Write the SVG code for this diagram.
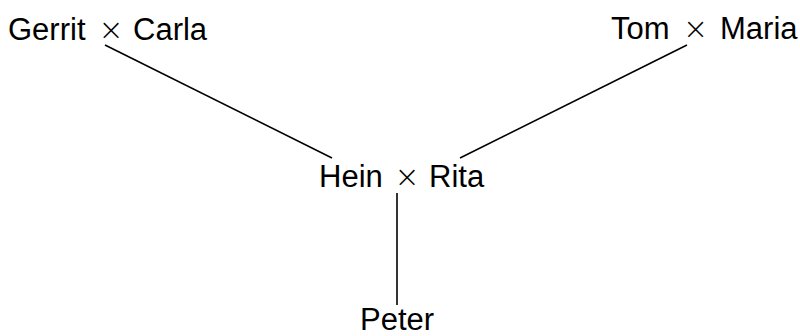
<svg xmlns="http://www.w3.org/2000/svg" width="800" height="336" viewBox="0 0 800 336">
<style>
text{font-family:"Liberation Sans",Arial,sans-serif;font-size:31px;fill:#000}
.x{font-family:"DejaVu Sans",sans-serif;font-size:30px;font-weight:200;text-anchor:middle}
.c{stroke:#000;stroke-width:1.6;fill:none}
</style>
<rect width="800" height="336" fill="#fff"/>
<g id="connectors">
<line class="c" x1="105" y1="45" x2="332" y2="158"/>
<line class="c" x1="687" y1="45" x2="460" y2="158"/>
<line class="c" x1="397" y1="193" x2="397" y2="305"/>
</g>
<g id="gerrit-carla"><text y="40"><tspan x="8">Gerrit</tspan><tspan class="x" x="111">×</tspan><tspan x="133">Carla</tspan></text></g>
<g id="tom-maria"><text y="39"><tspan x="611">Tom</tspan><tspan class="x" x="695.5">×</tspan><tspan x="720">Maria</tspan></text></g>
<g id="hein-rita"><text y="187"><tspan x="319">Hein</tspan><tspan class="x" x="407">×</tspan><tspan x="429">Rita</tspan></text></g>
<g id="peter"><text x="360" y="330">Peter</text></g>
</svg>
